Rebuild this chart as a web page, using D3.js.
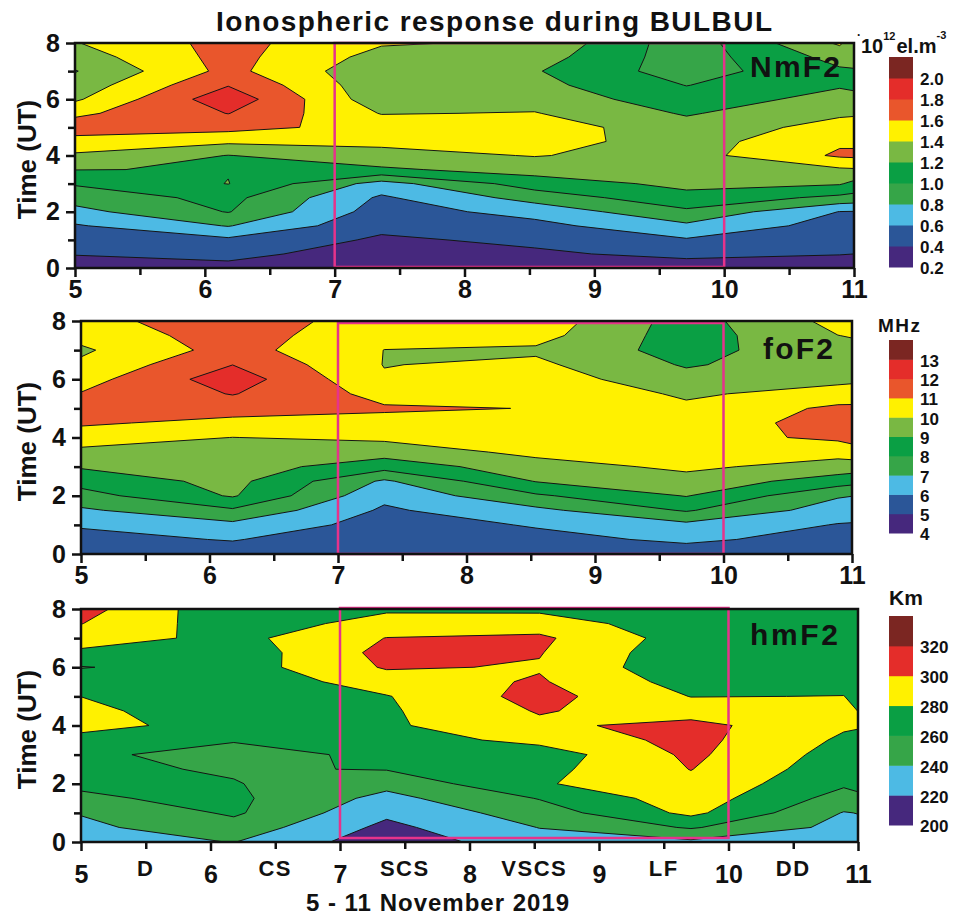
<!DOCTYPE html>
<html><head><meta charset="utf-8">
<script src="https://cdn.jsdelivr.net/npm/d3@7"></script>
<style>
body{margin:0;background:#fff}
svg{display:block}
text{font-family:"Liberation Sans",Arial,sans-serif;font-weight:bold;fill:#111}
</style>
</head><body>
<svg id="c" width="964" height="916"></svg>
<script>
// ---- grid (x = day of November 2019, y = time UT in hours) ----
const days  = [5, 6.18, 7.36, 8.54, 9.71, 10.89, 11];
const hours = [0, 0.5, 1, 1.5, 2, 2.5, 3, 3.5, 4, 4.5, 5, 5.5, 6, 6.5, 7, 7.5, 8];

// ---- NmF2 (10^12 el.m^-3), one array per day column, bottom (0 UT) to top (8 UT) ----
const nmf2 = [
  [0.30,0.41,0.48,0.58,0.74,0.88,1.02,1.205,1.37,1.53,1.70,1.56,1.37,1.28,1.19,1.30,1.39],
  [0.36,0.44,0.56,0.81,1.01,1.06,1.205,1.19,1.195,1.44,1.67,1.805,1.93,1.79,1.66,1.67,1.67],
  [0.30,0.33,0.37,0.45,0.51,0.57,0.72,1.17,1.33,1.45,1.52,1.39,1.27,1.26,1.25,1.33,1.42],
  [0.30,0.37,0.44,0.54,0.67,0.88,1.10,1.28,1.41,1.48,1.50,1.41,1.32,1.26,1.216,1.29,1.37],
  [0.30,0.45,0.58,0.76,0.96,1.14,1.25,1.30,1.32,1.31,1.28,1.18,1.09,0.995,0.90,0.89,0.88],
  [0.33,0.405,0.45,0.52,0.595,0.95,1.22,1.37,1.63,1.57,1.47,1.37,1.27,1.18,1.17,1.27,1.43],
  [0.33,0.40,0.45,0.52,0.59,0.93,1.15,1.38,1.64,1.56,1.47,1.38,1.26,1.16,1.19,1.24,1.28]
];
// ---- foF2 (MHz) ----
const fof2 = [
  [5.5,5.75,6.08,6.85,7.62,8.37,9.1,9.78,10.45,11.15,11.4,11.05,10.6,10.17,9.85,10.3,10.6],
  [5.6,6.05,6.75,7.85,9.1,9.3,9.5,9.7,9.99,10.7,11.45,12.05,12.55,11.99,11.4,11.5,11.7],
  [5.25,5.4,5.6,5.85,6.25,6.85,8.4,9.45,10.2,10.75,11.1,10.7,10.1,9.97,9.99,10.25,10.4],
  [5.5,5.75,6.07,6.75,7.85,9.05,9.6,10.25,10.6,10.85,10.98,10.8,10.5,10.2,9.85,10.35,10.6],
  [5.6,6.15,6.75,8.1,9.05,9.65,10.2,10.5,10.6,10.5,10.2,9.85,9.35,8.9,8.6,8.5,8.55],
  [5.5,5.7,5.95,6.5,7.1,8.5,9.6,10.35,11.2,11.35,11.2,10.4,9.75,9.6,9.75,9.99,10.3],
  [5.45,5.65,5.92,6.45,7.02,8.35,9.55,10.5,11.4,11.5,11.2,10.45,9.8,9.6,9.75,10.05,10.3]
];
// ---- hmF2 (km) ----
const hmf2 = [
  [232,236,241,258,262,264,265,276,284,287,279.8,272,259,276,290,300.5,308],
  [240.5,252,263,264,261,258,250,262,275,262,266,266,270,268,274,268,264],
  [208,215,224,234,246,261,266,270,277,277.5,279,290,302,306,300.5,288,277],
  [232,240.5,250,261,278,274,269,286,296,301.5,307,302,298.5,301,303.7,290,276],
  [236,262,285,291,295,300.5,304,306,306.5,290,279.5,272,265,266,270,268,266],
  [229,234,239,252,263,268,272,277,282.4,285,280.3,275,272,270,270,270,270],
  [230,235,240.5,256,265,269,273,277,281,279.8,276,273,272,271,270,270,270]
];

// ---- contour levels / colour-bar labels ----
const nmf2Levels = [0.2,0.4,0.6,0.8,1.0,1.2,1.4,1.6,1.8,2.0,2.2];
const fof2Levels = [4,5,6,7,8,9,10,11,12,13,14];
const hmf2Levels = [200,220,240,260,280,300,320,340];
const nmf2Labels = ["0.2","0.4","0.6","0.8","1.0","1.2","1.4","1.6","1.8","2.0"];
const fof2Labels = ["4","5","6","7","8","9","10","11","12","13"];
const hmf2Labels = ["200","220","240","260","280","300","320"];
const colors10 = ["#46287D","#2B5698","#4DBAE4","#36A548","#0A9F44","#79B843","#FFF100","#E9562C","#E42D2A","#7B2622"];
const colors7  = ["#46287D","#4DBAE4","#36A548","#0A9F44","#FFF100","#E42D2A","#7B2622"];

// ---- axes ----
const xTickValues = [5,6,7,8,9,10,11];
const xMinorValues = [5.5,6.5,7.5,8.5,9.5,10.5];
const yTickValues = [0,2,4,6,8];
const yMinorValues = [1,3,5,7];
const eventDays  = [5.5,6.5,7.5,8.5,9.5,10.5];
const eventNames = ["D","CS","SCS","VSCS","LF","DD"];
const stormWindow = [7, 10];

const panels = [
  {name:"NmF2", data:nmf2, levels:nmf2Levels, labels:nmf2Labels, colors:colors10,
   x0:75, x1:854, y0:43, y1:268, lg0:57, lg1:267, nameX:750, nameY:77, nameLen:90,
   pink:[43,267]},
  {name:"foF2", data:fof2, levels:fof2Levels, labels:fof2Labels, colors:colors10,
   x0:81, x1:852, y0:321, y1:554, lg0:340, lg1:533, nameX:763, nameY:359, nameLen:70,
   pink:[323,554]},
  {name:"hmF2", data:hmf2, levels:hmf2Levels, labels:hmf2Labels, colors:colors7,
   x0:81, x1:858, y0:609, y1:842, lg0:616, lg1:825, nameX:750, nameY:645, nameLen:88,
   pink:[608,838]}
];

const svg = d3.select("#c");
const defs = svg.append("defs");

panels.forEach((p, k) => {
  const nx = days.length, ny = hours.length;
  const vals = [];
  for (let j = 0; j < ny; j++) for (let i = 0; i < nx; i++) vals.push(p.data[i][j]);

  const x = d3.scaleLinear().domain([5, 11]).range([p.x0, p.x1]);
  const y = d3.scaleLinear().domain([0, 8]).range([p.y1, p.y0]);
  const ix = d3.scaleLinear().domain(d3.range(nx)).range(days);
  const iy = d3.scaleLinear().domain(d3.range(ny)).range(hours);
  const proj = d3.geoTransform({point: function(px, py) {
    this.stream.point(x(ix(px - 0.5)), y(iy(py - 0.5)));
  }});
  const path = d3.geoPath(proj);

  defs.append("clipPath").attr("id", "clip" + k)
    .append("rect").attr("x", p.x0).attr("y", p.y0)
    .attr("width", p.x1 - p.x0).attr("height", p.y1 - p.y0);

  const thresholds = p.levels.slice(0, -1);
  const contours = d3.contours().size([nx, ny]).thresholds(thresholds)(vals);

  const g = svg.append("g").attr("clip-path", `url(#clip${k})`);
  g.selectAll("path.fill").data(contours).join("path")
    .attr("class", "fill")
    .attr("d", path)
    .attr("fill", (d, i) => p.colors[i])
    .attr("stroke", "none");
  g.selectAll("path.line").data(contours.slice(1)).join("path")
    .attr("class", "line")
    .attr("d", path)
    .attr("fill", "none")
    .attr("stroke", "#151515")
    .attr("stroke-width", 1);

  // storm window box
  svg.append("rect")
    .attr("x", x(stormWindow[0])).attr("y", p.pink[0])
    .attr("width", x(stormWindow[1]) - x(stormWindow[0]))
    .attr("height", p.pink[1] - p.pink[0])
    .attr("fill", "none").attr("stroke", "#E6338B").attr("stroke-width", 2.5);

  // frame
  svg.append("rect")
    .attr("x", p.x0).attr("y", p.y0)
    .attr("width", p.x1 - p.x0).attr("height", p.y1 - p.y0)
    .attr("fill", "none").attr("stroke", "#111").attr("stroke-width", 2.5);

  // x axis
  const isLast = k === 2;
  const xAxis = svg.append("g").attr("transform", `translate(0,${p.y1})`)
    .call(d3.axisBottom(x).tickValues(xTickValues).tickFormat(d3.format("d"))
      .tickSize(9).tickPadding(isLast ? 14 : 3));
  const xMinor = svg.append("g").attr("transform", `translate(0,${p.y1})`)
    .call(d3.axisBottom(x).tickValues(xMinorValues).tickFormat("").tickSize(7));
  // y axis
  const yAxis = svg.append("g").attr("transform", `translate(${p.x0},0)`)
    .call(d3.axisLeft(y).tickValues(yTickValues).tickFormat(d3.format("d"))
      .tickSize(9).tickPadding(6));
  const yMinor = svg.append("g").attr("transform", `translate(${p.x0},0)`)
    .call(d3.axisLeft(y).tickValues(yMinorValues).tickFormat("").tickSize(7));
  [xAxis, xMinor, yAxis, yMinor].forEach(a => {
    a.select(".domain").remove();
    a.selectAll("line").attr("stroke", "#111").attr("stroke-width", 2.5);
    a.selectAll("text").attr("font-size", 25).attr("font-family", null)
      .style("font-family", '"Liberation Sans",Arial,sans-serif').style("font-weight", "bold")
      .attr("fill", "#111");
  });

  // event labels on the last panel
  if (isLast) {
    svg.append("g").selectAll("text").data(eventDays).join("text")
      .attr("x", d => x(d)).attr("y", p.y1 + 34)
      .attr("text-anchor", "middle").attr("font-size", 22)
      .attr("letter-spacing", 1.5)
      .text((d, i) => eventNames[i]);
    svg.append("text").attr("x", 438).attr("y", 910.5)
      .attr("text-anchor", "middle").attr("font-size", 24)
      .attr("letter-spacing", 1)
      .text("5 - 11 November 2019");
  }

  // y title
  const cy = (p.y0 + p.y1) / 2 + 4;
  svg.append("text").attr("transform", `translate(36,${cy}) rotate(-90)`)
    .attr("text-anchor", "middle").attr("font-size", 26)
    .text("Time (UT)");

  // panel name
  svg.append("text").attr("x", p.nameX).attr("y", p.nameY)
    .attr("font-size", 30).attr("textLength", p.nameLen).attr("lengthAdjust", "spacing")
    .text(p.name);

  // colour bar
  const lv = p.levels;
  const ly = d3.scaleLinear().domain([lv[0], lv[lv.length - 1]]).range([p.lg1, p.lg0]);
  const lg = svg.append("g");
  lg.selectAll("rect").data(d3.range(lv.length - 1)).join("rect")
    .attr("x", 889).attr("width", 24)
    .attr("y", i => ly(lv[i + 1])).attr("height", i => ly(lv[i]) - ly(lv[i + 1]) + 0.5)
    .attr("fill", i => p.colors[i]);
  lg.selectAll("text").data(p.labels).join("text")
    .attr("x", 920).attr("y", (d, i) => ly(lv[i]) + 3)
    .attr("dominant-baseline", "middle").attr("font-size", 17)
    .text(d => d);
});

// title
svg.append("text").attr("x", 494).attr("y", 31).attr("text-anchor", "middle")
  .attr("font-size", 28).attr("textLength", 556).attr("lengthAdjust", "spacing")
  .text("Ionospheric response during BULBUL");

// units
const u1 = svg.append("text").attr("x", 857).attr("y", 53).attr("font-size", 20);
u1.append("tspan").attr("font-size", 12).attr("dy", -14).text("·");
u1.append("tspan").attr("dy", 14).text("10");
u1.append("tspan").attr("font-size", 11).attr("dy", -13).text("12");
u1.append("tspan").attr("dy", 13).attr("dx", 1).text("el.m");
u1.append("tspan").attr("font-size", 11).attr("dy", -14).text("-3");
svg.append("text").attr("x", 878).attr("y", 332).attr("font-size", 19)
  .attr("letter-spacing", 1.5).text("MHz");
svg.append("text").attr("x", 889).attr("y", 605).attr("font-size", 21).text("Km");
</script>
</body></html>
